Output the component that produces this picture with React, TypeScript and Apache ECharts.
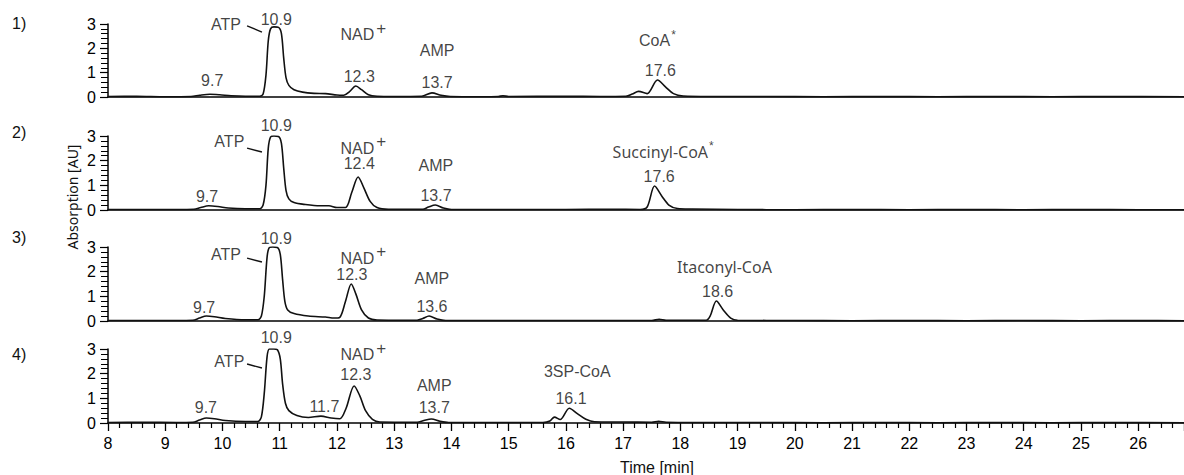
import React, { useEffect, useRef } from "react";
import * as echarts from "echarts";

// ---- data ----
const TIME_MIN = 8;
const TIME_MAX = 26.8;
const Y_TICKS = [0, 1, 2, 3];
const PANEL_NAMES = ["1)", "2)", "3)", "4)"];

const trace1: number[][] = [
  [8, 0.02], [8.5, 0.03], [9.0, 0.01], [9.45, 0.02], [9.6, 0.07], [9.78, 0.11], [9.95, 0.09], [10.15, 0.05],
  [10.4, 0.03], [10.65, 0.03], [10.71, 0.12], [10.76, 0.9], [10.8, 2.3], [10.84, 2.8], [10.9, 2.88],
  [10.98, 2.86], [11.03, 2.6], [11.07, 1.6], [11.11, 0.8], [11.16, 0.48], [11.25, 0.3], [11.4, 0.2],
  [11.6, 0.15], [11.8, 0.14], [12.0, 0.08], [12.12, 0.07], [12.22, 0.22], [12.33, 0.45], [12.43, 0.3],
  [12.55, 0.09], [12.7, 0.03], [13.0, 0.02], [13.48, 0.03], [13.66, 0.17], [13.82, 0.07], [13.98, 0.02],
  [14.5, 0.01], [14.82, 0.02], [14.9, 0.05], [15.0, 0.02], [16.0, 0.03], [16.6, 0.02], [17.05, 0.03],
  [17.16, 0.12], [17.27, 0.23], [17.42, 0.14], [17.6, 0.7], [17.74, 0.42], [17.88, 0.14], [18.05, 0.04],
  [18.5, 0.02], [19.5, 0.02], [20.5, 0.01], [21.5, 0.02], [22.5, 0.01], [23.5, 0.02], [24.5, 0.01],
  [25.5, 0.02], [26.8, 0.01],
];

const trace2: number[][] = [
  [8, 0.02], [8.6, 0.02], [9.2, 0.02], [9.5, 0.03], [9.62, 0.1], [9.76, 0.17], [9.92, 0.14], [10.1, 0.08],
  [10.4, 0.05], [10.65, 0.05], [10.71, 0.2], [10.76, 1.0], [10.8, 2.5], [10.84, 2.96], [10.9, 3.0],
  [10.98, 2.98], [11.03, 2.7], [11.07, 1.7], [11.11, 0.8], [11.16, 0.45], [11.25, 0.3], [11.45, 0.22],
  [11.7, 0.17], [11.86, 0.17], [12.0, 0.1], [12.15, 0.1], [12.26, 0.72], [12.37, 1.34], [12.47, 0.9],
  [12.58, 0.35], [12.7, 0.1], [12.9, 0.03], [13.5, 0.03], [13.6, 0.12], [13.72, 0.2], [13.86, 0.08],
  [14.0, 0.02], [15.0, 0.02], [16.0, 0.02], [16.8, 0.03], [17.3, 0.02], [17.42, 0.12], [17.55, 0.97],
  [17.68, 0.55], [17.8, 0.2], [17.95, 0.06], [18.2, 0.04], [19.0, 0.02], [20.0, 0.01], [21.0, 0.02],
  [22.0, 0.01], [23.0, 0.02], [24.0, 0.01], [25.0, 0.02], [26.0, 0.01], [26.8, 0.01],
];

const trace3: number[][] = [
  [8, 0.02], [8.6, 0.02], [9.2, 0.02], [9.48, 0.03], [9.6, 0.12], [9.72, 0.2], [9.86, 0.17], [10.05, 0.1],
  [10.4, 0.05], [10.62, 0.05], [10.68, 0.2], [10.73, 1.0], [10.78, 2.6], [10.82, 2.98], [10.88, 3.0],
  [10.96, 2.98], [11.01, 2.7], [11.05, 1.7], [11.09, 0.8], [11.14, 0.45], [11.25, 0.3], [11.5, 0.2],
  [11.8, 0.16], [11.95, 0.12], [12.05, 0.15], [12.15, 0.8], [12.25, 1.5], [12.33, 1.1], [12.43, 0.45],
  [12.55, 0.12], [12.7, 0.04], [13.4, 0.03], [13.5, 0.1], [13.61, 0.2], [13.75, 0.08], [13.9, 0.02],
  [15.0, 0.02], [16.0, 0.02], [17.0, 0.02], [17.5, 0.02], [17.63, 0.07], [17.75, 0.03], [18.45, 0.03],
  [18.52, 0.2], [18.63, 0.81], [18.75, 0.45], [18.88, 0.12], [19.0, 0.03], [20.0, 0.02], [21.0, 0.01],
  [22.0, 0.02], [23.0, 0.01], [24.0, 0.02], [25.0, 0.01], [26.0, 0.02], [26.8, 0.01],
];

const trace4: number[][] = [
  [8, 0.02], [8.6, 0.03], [9.2, 0.02], [9.48, 0.03], [9.6, 0.12], [9.72, 0.2], [9.86, 0.17], [10.05, 0.1],
  [10.4, 0.06], [10.62, 0.06], [10.68, 0.25], [10.73, 1.2], [10.78, 2.7], [10.82, 3.0], [10.9, 3.0],
  [10.96, 2.97], [11.01, 2.6], [11.05, 1.6], [11.1, 0.8], [11.16, 0.5], [11.3, 0.3], [11.5, 0.22],
  [11.72, 0.28], [11.9, 0.2], [12.05, 0.17], [12.16, 0.6], [12.3, 1.5], [12.4, 1.1], [12.5, 0.5],
  [12.62, 0.15], [12.75, 0.04], [13.4, 0.03], [13.52, 0.1], [13.65, 0.16], [13.8, 0.07], [13.95, 0.02],
  [14.8, 0.02], [15.6, 0.02], [15.72, 0.08], [15.8, 0.24], [15.9, 0.14], [16.06, 0.6], [16.2, 0.38],
  [16.35, 0.15], [16.5, 0.05], [16.8, 0.04], [17.0, 0.04], [17.5, 0.03], [17.62, 0.07], [17.75, 0.03],
  [18.5, 0.02], [19.5, 0.02], [20.5, 0.01], [21.5, 0.02], [22.5, 0.01], [23.5, 0.02], [24.5, 0.01],
  [25.5, 0.02], [26.8, 0.01],
];

// peak annotations: [text, time, absorption]
const labels1: [string, number, number][] = [
  ["ATP", 10.06, 3.0], ["10.9", 10.94, 3.2], ["9.7", 9.82, 0.66], ["NAD{sup|+}", 12.46, 2.55],
  ["12.3", 12.39, 0.86], ["AMP", 13.75, 1.93], ["13.7", 13.75, 0.58], ["CoA{ast|*}", 17.6, 2.32],
  ["17.6", 17.65, 1.07],
];
const labels2: [string, number, number][] = [
  ["ATP", 10.12, 2.76], ["10.9", 10.94, 3.42], ["9.7", 9.73, 0.53], ["NAD{sup|+}", 12.46, 2.5],
  ["12.4", 12.39, 1.9], ["AMP", 13.73, 1.82], ["13.7", 13.73, 0.57], ["{my|Succinyl-CoA}{ast|*}", 17.7, 2.36],
  ["17.6", 17.63, 1.34],
];
const labels3: [string, number, number][] = [
  ["ATP", 10.06, 2.68], ["10.9", 10.94, 3.36], ["9.7", 9.68, 0.53], ["NAD{sup|+}", 12.46, 2.55],
  ["12.3", 12.26, 1.9], ["AMP", 13.66, 1.74], ["13.6", 13.66, 0.57], ["{my|Itaconyl-CoA}", 18.77, 2.19],
  ["18.6", 18.65, 1.18],
];
const labels4: [string, number, number][] = [
  ["ATP", 10.12, 2.51], ["10.9", 10.94, 3.45], ["9.7", 9.71, 0.61], ["11.7", 11.78, 0.65],
  ["NAD{sup|+}", 12.46, 2.76], ["12.3", 12.33, 1.95], ["AMP", 13.7, 1.54], ["13.7", 13.7, 0.61],
  ["3SP-CoA", 16.2, 2.07], ["16.1", 16.09, 1.01],
];
// ATP leader lines
const leader1 = [[10.43, 2.92], [10.69, 2.67]];
const leader2 = [[10.43, 2.51], [10.69, 2.35]];
const leader3 = [[10.43, 2.55], [10.69, 2.39]];
const leader4 = [[10.43, 2.39], [10.69, 2.23]];

const TRACES = [trace1, trace2, trace3, trace4];
const LABELS = [labels1, labels2, labels3, labels4];
const LEADERS = [leader1, leader2, leader3, leader4];

// ---- layout ----
const GRID_TOPS = [24, 136, 247, 349];
const GRID_HEIGHTS = [73, 74, 74, 74];
const ARIAL = "'Liberation Sans', Arial, sans-serif";
const MYRIAD = "'Noto Sans', 'Open Sans', sans-serif";

export default function App() {
  const ref = useRef<HTMLDivElement>(null);
  useEffect(() => {
    if (!ref.current) return;
    const chart = echarts.init(ref.current, null, { renderer: "svg" });
    const grids = GRID_TOPS.map((top, i) => ({
      left: 108, right: 0, top, height: GRID_HEIGHTS[i], containLabel: false,
    }));
    const xAxes = GRID_TOPS.map((_, i) => {
      const last = i === 3;
      return {
        type: "value", gridIndex: i, min: TIME_MIN, max: TIME_MAX, interval: 1,
        axisLine: { show: true, onZero: false, lineStyle: { color: "#000", width: 1.5 } },
        axisTick: { show: last, length: 8, lineStyle: { color: "#000", width: 1.3 } },
        minorTick: { show: last, splitNumber: 5, length: 5, lineStyle: { color: "#000", width: 1.2 } },
        axisLabel: {
          show: last, margin: 12, fontSize: 16, color: "#000", fontFamily: ARIAL,
          showMaxLabel: false,
          formatter: (v: number) => (Number.isInteger(v) ? String(v) : ""),
        },
        splitLine: { show: false },
      };
    });
    const yAxes = GRID_TOPS.map((_, i) => ({
      type: "value", gridIndex: i, min: 0, max: 3, interval: 1,
      axisLine: { show: true, lineStyle: { color: "#000", width: 1.5 } },
      axisTick: { show: true, length: 8, lineStyle: { color: "#000", width: 1.2 } },
      minorTick: { show: true, splitNumber: 5, length: 7, lineStyle: { color: "#000", width: 1 } },
      axisLabel: {
        margin: 12, fontSize: 16, color: "#000", fontFamily: ARIAL,
        formatter: (v: number) => (Y_TICKS.includes(v) ? String(v) : ""),
      },
      splitLine: { show: false },
    }));
    const series: any[] = [];
    TRACES.forEach((tr, i) => {
      series.push({
        type: "line", xAxisIndex: i, yAxisIndex: i, data: tr, smooth: 0.3, showSymbol: false,
        symbol: "none", lineStyle: { color: "#111", width: 1.6 }, z: 3,
      });
      series.push({
        type: "line", xAxisIndex: i, yAxisIndex: i, data: LEADERS[i], showSymbol: false,
        symbol: "none", clip: false, lineStyle: { color: "#111", width: 1.4 }, z: 3,
      });
      series.push({
        type: "scatter", xAxisIndex: i, yAxisIndex: i, clip: false, symbolSize: 1,
        itemStyle: { color: "transparent" }, z: 5,
        data: LABELS[i].map(([name, t, v]) => ({ name, value: [t, v] })),
        label: {
          show: true, position: "inside", formatter: (p: any) => p.name,
          fontSize: 16, color: "#111", fontFamily: ARIAL,
          rich: {
            sup: { fontSize: 17, fontFamily: ARIAL, color: "#111", padding: [0, 0, 13, 2] },
            ast: { fontSize: 12, fontFamily: ARIAL, color: "#111", padding: [0, 0, 12, 1] },
            my: { fontSize: 16, fontFamily: MYRIAD, color: "#111" },
          },
        },
      });
    });
    const graphic: any[] = PANEL_NAMES.map((txt, i) => ({
      type: "text", left: 12, top: [15, 124, 229, 346][i],
      style: { text: txt, fontSize: 16, fontFamily: ARIAL, fill: "#111" },
    }));
    graphic.push({
      type: "text", x: 72, y: 197, rotation: Math.PI / 2,
      style: { text: "Absorption [AU]", fontSize: 14, fontFamily: MYRIAD, fill: "#111", align: "center", verticalAlign: "middle" },
    });
    graphic.push({
      type: "text", x: 657, y: 467,
      style: { text: "Time [min]", fontSize: 16, fontFamily: ARIAL, fill: "#111", align: "center", verticalAlign: "middle" },
    });
    chart.setOption({
      animation: false,
      backgroundColor: "#fff",
      grid: grids,
      xAxis: xAxes,
      yAxis: yAxes,
      series,
      graphic,
    });
    return () => chart.dispose();
  }, []);
  return (
    <div
      ref={ref}
      style={{ position: "absolute", left: 0, top: 0, width: 1184, height: 475 }}
    />
  );
}
